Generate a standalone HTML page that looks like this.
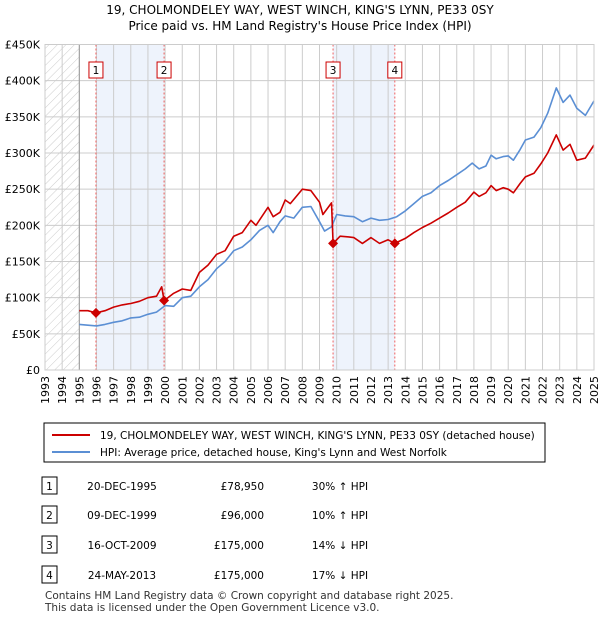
<!DOCTYPE html>
<html><head><meta charset="utf-8"><style>
body{margin:0;background:#fff;font-family:"Liberation Sans","DejaVu Sans",sans-serif;}
svg text{font-family:"DejaVu Sans","Liberation Sans",sans-serif;}
</style></head><body>
<svg id="c" width="600" height="620" xmlns="http://www.w3.org/2000/svg">
<defs><pattern id="h" width="6" height="6" patternUnits="userSpaceOnUse" patternTransform="rotate(45)"><line x1="0" y1="0" x2="0" y2="6" stroke="#ccc" stroke-width="1"/></pattern></defs>
<text x="300" y="14" font-size="12" text-anchor="middle">19, CHOLMONDELEY WAY, WEST WINCH, KING'S LYNN, PE33 0SY</text>
<text x="300" y="30" font-size="12" text-anchor="middle">Price paid vs. HM Land Registry's House Price Index (HPI)</text>
<g id="plot"></g>
<rect x="44" y="423" width="501" height="39" fill="#fff" stroke="#000" stroke-width="1"/>
<line x1="52" y1="435" x2="90" y2="435" stroke="#cc0000" stroke-width="2"/>
<text x="100" y="439" font-size="10.5">19, CHOLMONDELEY WAY, WEST WINCH, KING'S LYNN, PE33 0SY (detached house)</text>
<line x1="52" y1="452" x2="90" y2="452" stroke="#5b8fd4" stroke-width="2"/>
<text x="100" y="456" font-size="10.5">HPI: Average price, detached house, King's Lynn and West Norfolk</text>
<g id="tbl" font-size="10.5"></g>
<text x="45" y="599" font-size="10.5" fill="#333">Contains HM Land Registry data © Crown copyright and database right 2025.</text>
<text x="45" y="611" font-size="10.5" fill="#333">This data is licensed under the Open Government Licence v3.0.</text>
</svg>
<script>
const hpiYears=[1995,1995.5,1996,1996.5,1997,1997.5,1998,1998.5,1999,1999.5,2000,2000.5,2001,2001.5,2002,2002.5,2003,2003.5,2004,2004.5,2005,2005.5,2006,2006.3,2006.7,2007,2007.5,2008,2008.5,2009,2009.3,2009.7,2010,2010.5,2011,2011.5,2012,2012.5,2013,2013.5,2014,2014.5,2015,2015.5,2016,2016.5,2017,2017.5,2017.9,2018.3,2018.7,2019,2019.3,2019.7,2020,2020.3,2020.7,2021,2021.5,2021.9,2022.3,2022.8,2023.2,2023.6,2024,2024.5,2025];
const hpiValues=[63,62,61,63,66,68,72,73,77,80,89,88,100,102,115,125,140,150,165,170,180,193,200,190,205,213,210,225,226,205,192,198,215,213,212,205,210,207,208,212,220,230,240,245,255,262,270,278,286,278,282,297,292,295,296,290,305,318,322,335,355,390,370,380,362,352,372];
const priceYears=[1995,1995.5,1995.97,1996.5,1997,1997.5,1998,1998.5,1999,1999.5,1999.8,1999.94,2000.5,2001,2001.5,2002,2002.5,2003,2003.5,2004,2004.5,2005,2005.3,2006,2006.3,2006.7,2007,2007.3,2008,2008.5,2009,2009.2,2009.7,2009.79,2010.2,2010.7,2011,2011.5,2012,2012.5,2013,2013.39,2014,2014.5,2015,2015.5,2016,2016.5,2017,2017.5,2018,2018.3,2018.7,2019,2019.3,2019.7,2020,2020.3,2020.7,2021,2021.5,2021.9,2022.3,2022.8,2023.2,2023.6,2024,2024.5,2025];
const priceValues=[82,82,79,82,87,90,92,95,100,102,115,96,106,112,110,135,145,160,165,185,190,207,200,225,212,218,235,230,250,248,232,215,231,175,185,184,183,175,183,175,180,175,182,190,197,203,210,217,225,232,246,240,245,255,248,252,250,245,258,267,272,285,300,325,304,312,290,293,311];
const yTicks=[0,50,100,150,200,250,300,350,400,450];
const yTickLabels=["£0","£50K","£100K","£150K","£200K","£250K","£300K","£350K","£400K","£450K"];
const xTicks=[1993,1994,1995,1996,1997,1998,1999,2000,2001,2002,2003,2004,2005,2006,2007,2008,2009,2010,2011,2012,2013,2014,2015,2016,2017,2018,2019,2020,2021,2022,2023,2024,2025];
const saleYears=[1995.97,1999.94,2009.79,2013.39];
const saleValues=[78.95,96,175,175];
const saleLabels=["1","2","3","4"];
const saleDates=["20-DEC-1995","09-DEC-1999","16-OCT-2009","24-MAY-2013"];
const salePrices=["£78,950","£96,000","£175,000","£175,000"];
const saleHpi=["30% ↑ HPI","10% ↑ HPI","14% ↓ HPI","17% ↓ HPI"];

const X0=45,X1=594,Y0=370,Y1=44.5;
const xs=y=>X0+(y-1993)/(2025-1993)*(X1-X0);
const ys=v=>Y0-v/450*(Y0-Y1);
const NS="http://www.w3.org/2000/svg";
const g=document.getElementById('plot');
function mk(t,a,p){const e=document.createElementNS(NS,t);for(const k in a)e.setAttribute(k,a[k]);(p||g).appendChild(e);return e;}
let r=mk('rect',{x:xs(1993),y:Y1,width:xs(1995)-xs(1993),height:Y0-Y1,fill:'url(#h)'});


for(let i=0;i<2;i++){
 const s=mk('rect',{x:xs(saleYears[i*2]),y:Y1,width:xs(saleYears[i*2+1])-xs(saleYears[i*2]),height:Y0-Y1,fill:'#eef3fc'});
 
 
}
xTicks.forEach(t=>{
 const l=mk('line',{x1:xs(t),x2:xs(t),y1:Y1,y2:Y0,stroke:'#ccc','stroke-width':1});
 
 
 const tx=mk('text',{x:0,y:0,'font-size':11,'text-anchor':'end',transform:`translate(${xs(t)+4},${Y0+6}) rotate(-90)`});
 tx.textContent=t;
 
 
});
yTicks.forEach((t,i)=>{
 const l=mk('line',{x1:X0,x2:X1,y1:ys(t),y2:ys(t),stroke:'#ccc','stroke-width':1});
 
 
 const tx=mk('text',{x:X0-5,y:ys(t)+4,'font-size':11,'text-anchor':'end'});
 tx.textContent=yTickLabels[i];
 
 
});
let ax=mk('line',{x1:xs(1995),x2:xs(1995),y1:Y1,y2:Y0,stroke:'#999','stroke-width':1});


saleYears.forEach((y,i)=>{
 const l=mk('line',{x1:xs(y),x2:xs(y),y1:Y1,y2:Y0,stroke:'#f06060','stroke-width':1,'stroke-dasharray':'2,2'});
 
 
});
function path(xa,va,col,name){
 const p=mk('path',{d:xa.map((x,i)=>(i?'L':'M')+xs(x).toFixed(1)+','+ys(va[i]).toFixed(1)).join(''),fill:'none',stroke:col,'stroke-width':1.6,'stroke-linejoin':'round'});
 
 
}
path(hpiYears,hpiValues,'#5b8fd4','hpi-line');
path(priceYears,priceValues,'#cc0000','price-line');
saleYears.forEach((y,i)=>{
 const cx=xs(y),cy=ys(saleValues[i]);
 const d=mk('path',{d:`M${cx},${cy-5}L${cx+5},${cy}L${cx},${cy+5}L${cx-5},${cy}Z`,fill:'#cc0000'});
 
 
 const b=mk('rect',{x:cx-7,y:62,width:14,height:16,fill:'#fff',stroke:'#cc0000','stroke-width':1});
 
 
 const t=mk('text',{x:cx,y:74,'font-size':10.5,'text-anchor':'middle'});
 t.textContent=saleLabels[i];
 
 
});
let bd=mk('rect',{x:X0,y:Y1,width:X1-X0,height:Y0-Y1,fill:'none',stroke:'#ccc'});


const tb=document.getElementById('tbl');
const rowY=[486,515,545,575];
saleLabels.forEach((s,i)=>{
 const y=rowY[i];
 const b=mk('rect',{x:42,y:y-9,width:15,height:17,fill:'#fff',stroke:'#000'},tb);
 
 
 const cells=[[49.5,s,'middle'],[122,saleDates[i],'middle'],[264,salePrices[i],'end'],[340,saleHpi[i],'middle']];
 cells.forEach(c=>{
  const t=mk('text',{x:c[0],y:y+4,'text-anchor':c[2]},tb);
  t.textContent=c[1];
  
  
 });
});
</script>
</body></html>
